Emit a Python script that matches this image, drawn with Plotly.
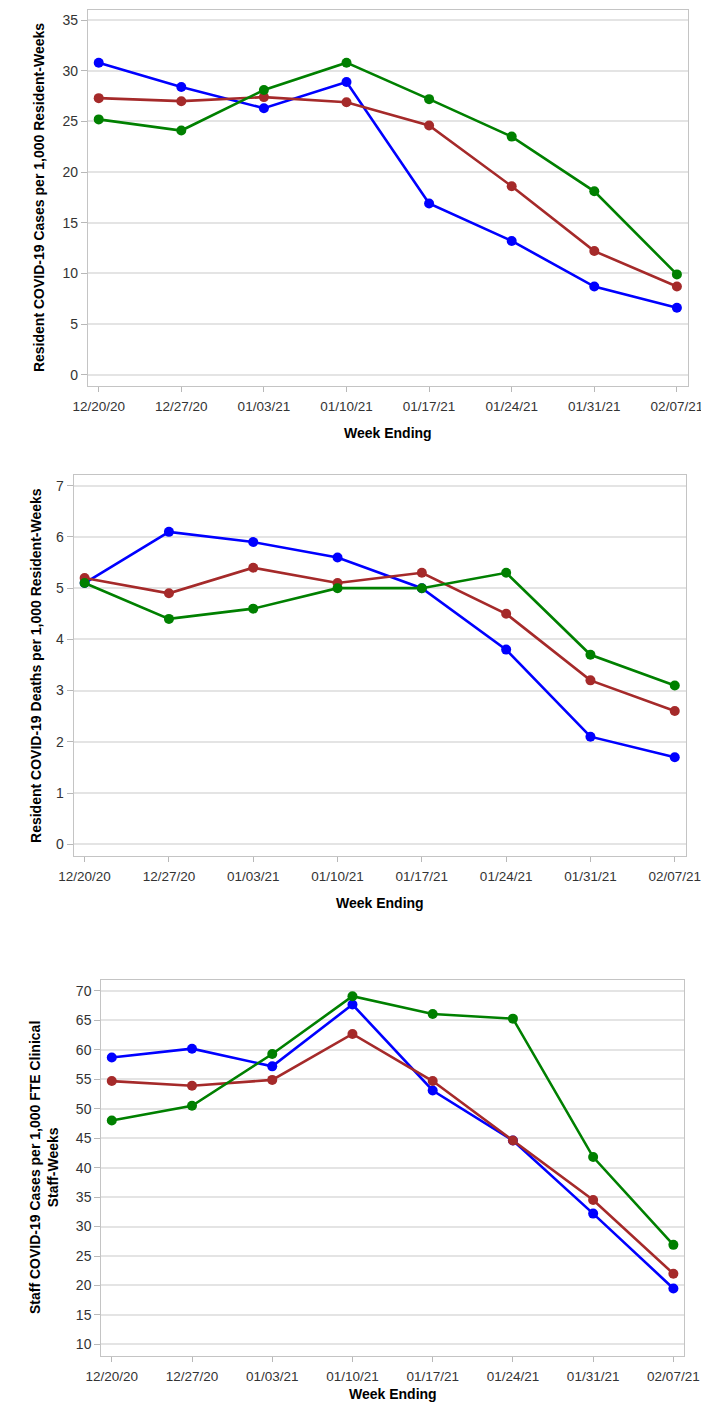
import plotly.graph_objects as go

weeks = ["12/20/20", "12/27/20", "01/03/21", "01/10/21", "01/17/21", "01/24/21", "01/31/21", "02/07/21"]

# Panel 1: Resident COVID-19 cases per 1,000 resident-weeks
cases_blue = [30.8, 28.4, 26.3, 28.9, 16.9, 13.2, 8.7, 6.6]
cases_red = [27.3, 27.0, 27.4, 26.9, 24.6, 18.6, 12.2, 8.7]
cases_green = [25.2, 24.1, 28.1, 30.8, 27.2, 23.5, 18.1, 9.9]

# Panel 2: Resident COVID-19 deaths per 1,000 resident-weeks
deaths_blue = [5.1, 6.1, 5.9, 5.6, 5.0, 3.8, 2.1, 1.7]
deaths_red = [5.2, 4.9, 5.4, 5.1, 5.3, 4.5, 3.2, 2.6]
deaths_green = [5.1, 4.4, 4.6, 5.0, 5.0, 5.3, 3.7, 3.1]

# Panel 3: Staff COVID-19 cases per 1,000 FTE clinical staff-weeks
staff_blue = [58.7, 60.2, 57.2, 67.7, 53.1, 44.6, 32.2, 19.5]
staff_red = [54.7, 53.9, 54.9, 62.7, 54.7, 44.6, 34.5, 22.0]
staff_green = [48.0, 50.5, 59.3, 69.1, 66.1, 65.3, 41.8, 26.9]

y_titles = [
    "Resident COVID-19 Cases per 1,000 Resident-Weeks",
    "Resident COVID-19 Deaths per 1,000 Resident-Weeks",
    "Staff COVID-19 Cases per 1,000 FTE Clinical<br>Staff-Weeks",
]
x_title = "Week Ending"

COLORS = ["#0000ff", "#a52a2a", "#008000"]
W, H = 709, 1405

panels = [
    dict(series=[cases_blue, cases_red, cases_green], left=67, right=695, top=1.5, bottom=378,
         yrange=[-1.12, 36.05], ytickvals=list(range(0, 36, 5)), ytitle_x=15, xtitle_y=425),
    dict(series=[deaths_blue, deaths_red, deaths_green], left=52, right=693, top=467, bottom=848,
         yrange=[-0.23, 7.21], ytickvals=list(range(0, 8)), ytitle_x=12, xtitle_y=895),
    dict(series=[staff_blue, staff_red, staff_green], left=81, right=691, top=972, bottom=1348,
         yrange=[8.03, 71.86], ytickvals=list(range(10, 71, 5)), ytitle_x=21, xtitle_y=1386),
]

fig = go.Figure()
layout = dict(
    width=W, height=H,
    margin=dict(l=0, r=0, t=0, b=0),
    paper_bgcolor="white", plot_bgcolor="white",
    showlegend=False,
    font=dict(family="Liberation Sans, Arial, sans-serif", size=13.5, color="#333333"),
    annotations=[],
)

for i, p in enumerate(panels):
    n = "" if i == 0 else str(i + 1)
    xa, ya = "x" + n, "y" + n
    for s, c in zip(p["series"], COLORS):
        fig.add_trace(go.Scatter(
            x=weeks, y=s, mode="lines+markers", xaxis=xa, yaxis=ya,
            line=dict(color=c, width=2.6),
            marker=dict(color=c, size=10),
        ))
    xdom = [p["left"] / W, p["right"] / W]
    ydom = [1 - p["bottom"] / H, 1 - p["top"] / H]
    layout["xaxis" + n] = dict(
        domain=xdom, anchor=ya, type="category", range=[-0.13, 7.13],
        showgrid=False, showline=True, linecolor="#c4c4c4", linewidth=1.2, mirror=True,
        ticks="outside", ticklen=5, tickcolor="#b8b8b8", tickwidth=1.2,
        ticklabelstandoff=3,
        tickfont=dict(size=13.5, color="#333333"), zeroline=False, fixedrange=True,
    )
    layout["yaxis" + n] = dict(
        domain=ydom, anchor=xa, range=p["yrange"], tickvals=p["ytickvals"],
        showgrid=True, gridcolor="#e4e4e4", gridwidth=1.6,
        showline=True, linecolor="#c4c4c4", linewidth=1.2, mirror=True,
        ticks="outside", ticklen=6, tickcolor="#b8b8b8", tickwidth=1.2,
        tickfont=dict(size=14, color="#333333"), zeroline=False, fixedrange=True,
    )
    layout["annotations"].append(dict(
        text="<b>" + y_titles[i].replace("<br>", "</b><br><b>") + "</b>",
        xref="paper", yref="paper",
        x=p["ytitle_x"] / W, y=1 - (p["top"] + p["bottom"]) / 2 / H,
        xanchor="center", yanchor="middle", textangle=-90, showarrow=False,
        font=dict(size=14, color="black"),
    ))
    layout["annotations"].append(dict(
        text="<b>" + x_title + "</b>",
        xref="paper", yref="paper",
        x=(p["left"] + p["right"]) / 2 / W, y=1 - p["xtitle_y"] / H,
        xanchor="center", yanchor="middle", showarrow=False,
        font=dict(size=14, color="black"),
    ))

fig.update_layout(**layout)
fig.write_html("out.html")
